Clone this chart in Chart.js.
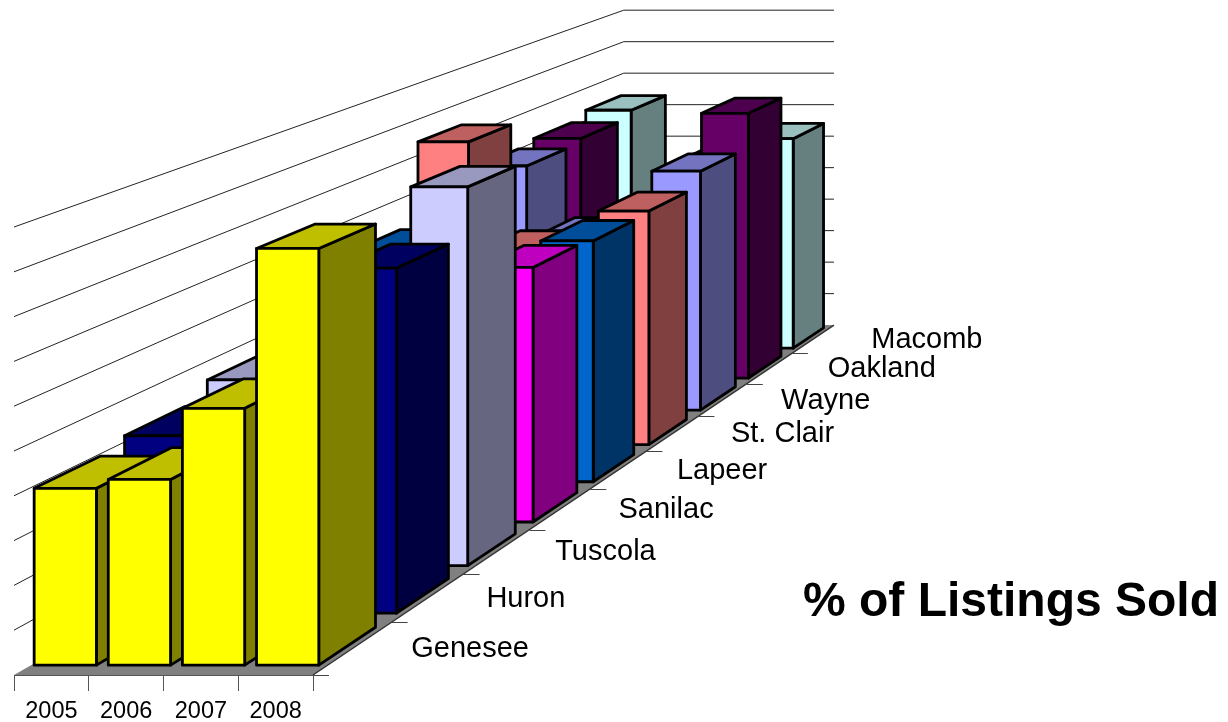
<!DOCTYPE html>
<html>
<head>
<meta charset="utf-8">
<title>% of Listings Sold</title>
<script src="https://cdn.jsdelivr.net/npm/chart.js@4/dist/chart.umd.min.js"></script>
<style>
  html, body { margin: 0; padding: 0; background: #fff; }
  canvas { display: block; }
</style>
</head>
<body>
<canvas id="listingsChart" width="1228" height="722"></canvas>
<script>
// ============================================================
// Data (bars hidden behind others are estimates)
// ============================================================
const years = ['2005', '2006', '2007', '2008'];
const counties = ['Genesee', 'Huron', 'Tuscola', 'Sanilac', 'Lapeer', 'St. Clair', 'Wayne', 'Oakland', 'Macomb'];

const genesee = [39.8, 41.8, 57.8, 93.8];
const huron = [41.8, 44, 62, 81.3];
const tuscola = [45.7, 50, 68, 93.2];
const sanilac = [40, 48, 58, 65.3];
const lapeer = [61.8, 50, 52, 64.3];
const stClair = [84, 53.8, 50, 64.8];
const wayne = [70.3, 50, 50, 68.8];
const oakland = [71.5, 46, 52, 79];
const macomb = [73.5, 45, 60, 64.7];

const countyValues = [genesee, huron, tuscola, sanilac, lapeer, stClair, wayne, oakland, macomb];
const countyColors = ['#ffff00', '#000080', '#ccccff', '#ff00ff', '#0066cc', '#ff8080', '#9999ff', '#660066', '#ccffff'];

// ============================================================
// Perspective: front plane is the chart area, depth runs to a vanishing point
// ============================================================
const VP_X = 2067;
const VP_Y = -503;
const DEPTH_K = 0.4225;
const BAR_FRONT = 0.18;
const BAR_BACK = 0.9;
const BAR_SHIFT = -3;
const FONT = '"Liberation Sans", Arial, sans-serif';

// row is a position along the county axis, 0 = front edge, counties.length = back wall
function project(x, y, row) {
  const s = 1 / (1 + DEPTH_K * row / counties.length);
  return { x: VP_X + (x - VP_X) * s, y: VP_Y + (y - VP_Y) * s };
}

function shade(hex, f) {
  const n = parseInt(hex.slice(1), 16);
  const c = [n >> 16, (n >> 8) & 255, n & 255].map(v => Math.round(v * f));
  return `rgb(${c[0]},${c[1]},${c[2]})`;
}

function face(ctx, pts, fill) {
  ctx.beginPath();
  pts.forEach((p, i) => i ? ctx.lineTo(p.x, p.y) : ctx.moveTo(p.x, p.y));
  ctx.closePath();
  ctx.fillStyle = fill;
  ctx.fill();
  ctx.stroke();
}

// Bar chart whose bars are drawn as boxes, still placed by the x and y scales
class Bar3dController extends Chart.BarController {
  static id = 'bar3d';

  draw() {
    const ctx = this.chart.ctx;
    const row = this.index;
    const color = this.getDataset().backgroundColor;
    const zf = row + BAR_FRONT;
    const zb = row + BAR_BACK;

    ctx.save();
    ctx.strokeStyle = '#000';
    ctx.lineWidth = 2.8;
    ctx.lineJoin = 'round';
    this.getMeta().data.forEach(bar => {
      const l = bar.x + BAR_SHIFT - bar.width / 2;
      const r = bar.x + BAR_SHIFT + bar.width / 2;
      const t = bar.y;
      const b = bar.base;
      face(ctx, [project(r, t, zf), project(r, t, zb), project(r, b, zb), project(r, b, zf)], shade(color, 0.5));
      face(ctx, [project(l, t, zf), project(l, t, zb), project(r, t, zb), project(r, t, zf)], shade(color, 0.75));
      face(ctx, [project(l, t, zf), project(r, t, zf), project(r, b, zf), project(l, b, zf)], color);
    });
    ctx.restore();
  }
}
Chart.register(Bar3dController);

// Floor, side wall and back wall gridlines
const wallsPlugin = {
  id: 'walls',
  beforeDatasetsDraw(chart) {
    const { ctx, scales } = chart;
    const left = chart.chartArea.left;
    const right = chart.chartArea.right;
    const floor = scales.y.getPixelForValue(0);
    const depth = counties.length;

    ctx.save();
    ctx.beginPath();
    [project(left, floor, 0), project(right, floor, 0), project(right, floor, depth), project(left, floor, depth)]
      .forEach((p, i) => i ? ctx.lineTo(p.x, p.y) : ctx.moveTo(p.x, p.y));
    ctx.closePath();
    ctx.fillStyle = '#808080';
    ctx.fill();

    ctx.strokeStyle = '#222';
    ctx.lineWidth = 1;
    scales.y.ticks.forEach(tick => {
      if (tick.value === 0) return;
      const y = scales.y.getPixelForValue(tick.value);
      const a = project(left, y, 0);
      const b = project(left, y, depth);
      const c = project(right, y, depth);
      ctx.beginPath();
      ctx.moveTo(a.x, a.y);
      ctx.lineTo(b.x, b.y);
      ctx.lineTo(c.x, c.y);
      ctx.stroke();
    });

    // depth axis edge and its ticks
    const start = project(right, floor, 0);
    const end = project(right, floor, depth);
    ctx.strokeStyle = '#333';
    ctx.lineWidth = 1.5;
    ctx.beginPath();
    ctx.moveTo(start.x, start.y);
    ctx.lineTo(end.x, end.y);
    ctx.stroke();
    ctx.lineWidth = 1;
    ctx.strokeStyle = '#444';
    for (let i = 0; i < depth; i++) {
      const p = project(right, floor, i);
      ctx.beginPath();
      ctx.moveTo(p.x, Math.round(p.y) + 0.5);
      ctx.lineTo(p.x + 16, Math.round(p.y) + 0.5);
      ctx.stroke();
    }
    ctx.restore();
  }
};

// County names along the depth axis and the title
const labelsPlugin = {
  id: 'labels',
  afterDraw(chart) {
    const { ctx, scales } = chart;
    const right = chart.chartArea.right;
    const floor = scales.y.getPixelForValue(0);

    ctx.save();
    ctx.fillStyle = '#000';
    ctx.textAlign = 'left';
    ctx.textBaseline = 'middle';
    ctx.font = `29px ${FONT}`;
    counties.forEach((name, i) => {
      const p = project(right, floor, i + 0.5);
      ctx.fillText(name, p.x + 58, p.y + 1);
    });

    ctx.textBaseline = 'alphabetic';
    ctx.font = `bold 48px ${FONT}`;
    ctx.fillText('% of Listings Sold', 803, 616);
    ctx.restore();
  }
};

new Chart(document.getElementById('listingsChart'), {
  type: 'bar3d',
  data: {
    labels: years,
    datasets: counties.map((name, i) => ({
      label: name,
      data: countyValues[i],
      backgroundColor: countyColors[i],
      grouped: false,
      barPercentage: 0.84,
      categoryPercentage: 1,
      clip: false
    }))
  },
  options: {
    responsive: false,
    animation: false,
    layout: { padding: { left: 14, right: 915, top: 227, bottom: 0 } },
    plugins: {
      legend: { display: false },
      tooltip: { enabled: false }
    },
    scales: {
      x: {
        type: 'category',
        offset: true,
        afterFit: scale => { scale.height = 47; },
        border: { display: true, color: '#555', width: 1 },
        grid: { offset: true, drawOnChartArea: false, drawTicks: true, tickLength: 16, color: '#555' },
        ticks: { color: '#000', padding: 6, autoSkip: false, maxRotation: 0, font: { family: FONT, size: 23.5 } }
      },
      y: {
        display: false,
        min: 0,
        max: 100,
        ticks: { stepSize: 10 }
      }
    }
  },
  plugins: [wallsPlugin, labelsPlugin]
});
</script>
</body>
</html>
